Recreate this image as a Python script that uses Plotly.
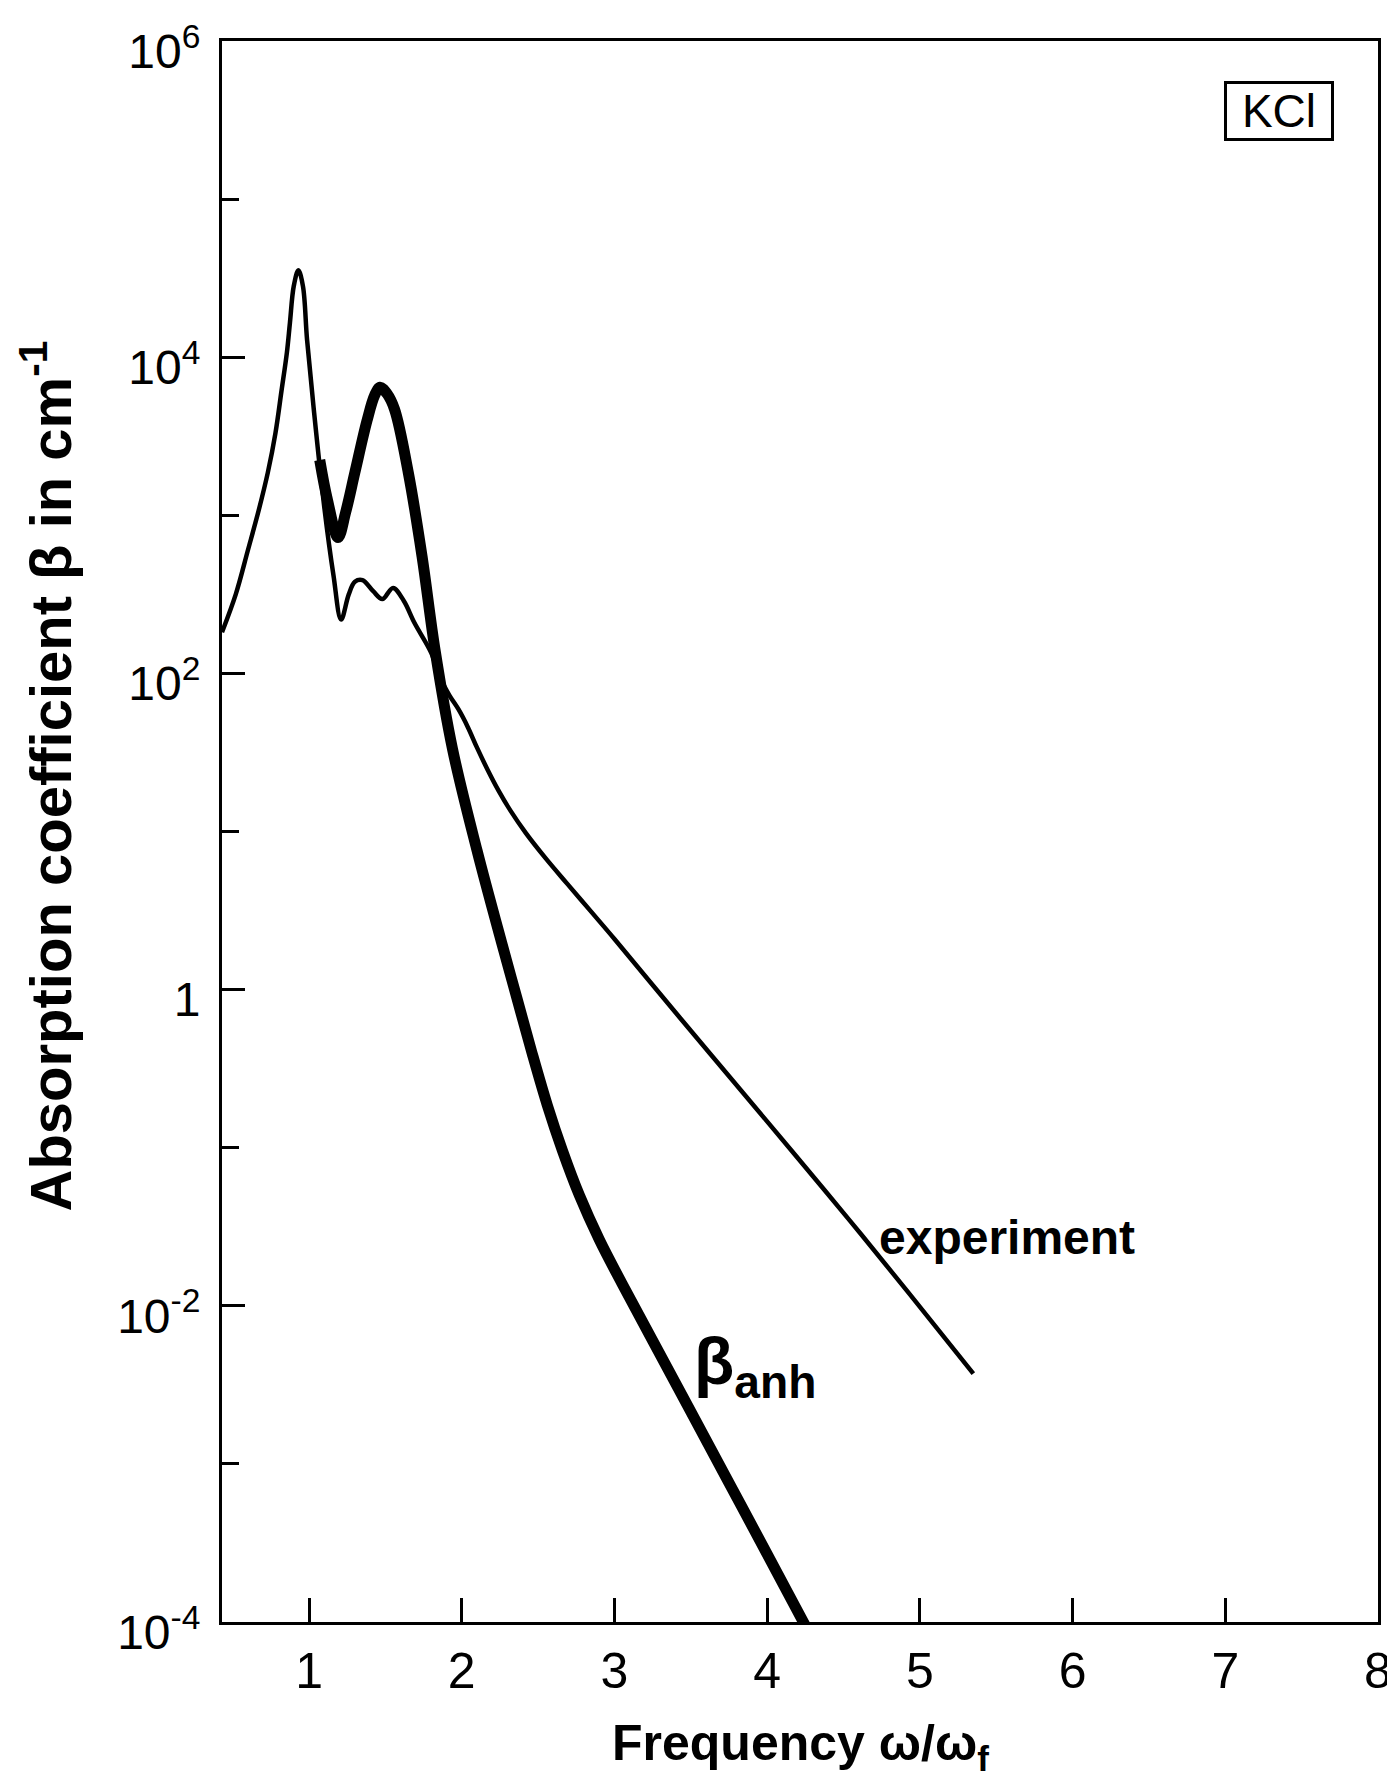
import plotly.graph_objects as go

# ---- data (x = ω/ω_f, y = β in cm^-1) ----
exp_x = [0.43, 0.52, 0.60, 0.67, 0.73, 0.78, 0.82, 0.855, 0.875, 0.90, 0.93, 0.96, 0.987,
         1.03, 1.10, 1.16, 1.21, 1.26, 1.30, 1.35, 1.42, 1.48, 1.55, 1.62, 1.69, 1.80,
         1.86, 1.92, 1.98, 2.04, 2.10, 2.17, 2.24, 2.32, 2.42, 2.55, 2.69, 2.85, 3.00,
         3.43, 3.77, 4.17, 4.54, 4.92, 5.35]
exp_y = [182, 316, 603, 1072, 1862, 3311, 6166, 10715, 16596, 28184, 35481, 28184, 12882,
         4786, 1122, 417, 219, 316, 380, 389, 331, 295, 347, 288, 209, 135,
         93.3, 72.4, 58.9, 45.7, 33.9, 24.5, 18.2, 13.5, 9.77, 6.76, 4.68, 3.09, 2.09,
         0.661, 0.269, 0.0933, 0.0347, 0.0123, 0.00372]

anh_x = [1.07, 1.12, 1.19, 1.24, 1.30, 1.38, 1.43, 1.465, 1.51, 1.56, 1.65, 1.74, 1.825,
         1.94, 2.10, 2.26, 2.36, 2.46, 2.56, 2.66, 2.77, 2.90, 3.05, 3.25, 3.50, 3.75,
         4.00, 4.27]
anh_y = [2239, 1259, 724, 1047, 1862, 3981, 5754, 6457, 5888, 4677, 1862, 550, 141,
         33.1, 7.59, 2.00, 0.891, 0.398, 0.186, 0.0955, 0.0501, 0.0263, 0.0138, 0.00603,
         0.00214, 0.000759, 0.000269, 0.0000871]

x_ticks = [1, 2, 3, 4, 5, 6, 7, 8]
y_ticks = [1e-4, 1e-2, 1, 1e2, 1e4, 1e6]
y_ticktext = ["10<sup>-4</sup>", "10<sup>-2</sup>", "1", "10<sup>2</sup>",
              "10<sup>4</sup>", "10<sup>6</sup>"]
y_minor = [1e-3, 1e-1, 1e1, 1e3, 1e5]

FONT = "Liberation Sans, Arial, sans-serif"

fig = go.Figure()
fig.add_trace(go.Scatter(x=exp_x, y=exp_y, mode="lines", name="experiment",
                         line=dict(color="black", width=4.5, shape="spline", smoothing=1.0)))
fig.add_trace(go.Scatter(x=anh_x, y=anh_y, mode="lines", name="β_anh",
                         line=dict(color="black", width=11, shape="spline", smoothing=1.0)))

# the page body adds an 8 px margin, so the figure is 8 px smaller than the window
fig.update_layout(
    width=1387, height=1770,
    margin=dict(l=214, r=17, t=33, b=156),
    plot_bgcolor="white", paper_bgcolor="white",
    showlegend=False,
    font=dict(family=FONT, color="black"),
)

fig.update_xaxes(
    range=[0.43, 8.0], tickvals=x_ticks, ticks="inside", ticklen=24, tickwidth=2.5,
    tickcolor="black", showline=True, linewidth=3, linecolor="black", mirror=True,
    showgrid=False, zeroline=False, tickfont=dict(size=50, family=FONT, color="black"),
    ticklabelstandoff=3, automargin=False, ticklabeloverflow="allow",
)
fig.update_yaxes(
    type="log", range=[-4, 6], tickvals=y_ticks, ticktext=y_ticktext,
    ticks="inside", ticklen=23, tickwidth=2.5, tickcolor="black",
    minor=dict(tickvals=y_minor, ticks="inside", ticklen=17, tickwidth=2.5, tickcolor="black"),
    showline=True, linewidth=3, linecolor="black", mirror=True,
    showgrid=False, zeroline=False, tickfont=dict(size=48, family=FONT, color="black"),
    ticklabelstandoff=9, ticklabelshift=10, automargin=False, ticklabeloverflow="allow",
)

# axis titles
fig.add_annotation(text="Absorption coefficient β in cm<sup>-1</sup>", textangle=-90,
                   xref="paper", yref="paper", x=-0.152, y=0.535,
                   xanchor="center", yanchor="middle", showarrow=False,
                   font=dict(size=58, family=FONT, color="black", weight="bold"))
fig.add_annotation(text="Frequency ω/ω<sub>f</sub>",
                   xref="paper", yref="paper", x=0.5, y=-0.079,
                   xanchor="center", yanchor="middle", showarrow=False,
                   font=dict(size=50, family=FONT, color="black", weight="bold"))

# labels inside the plot
fig.add_annotation(text="KCl", xref="x", yref="y", x=7.35, y=5.557,
                   showarrow=False, bordercolor="black", borderwidth=3, borderpad=2,
                   width=100, height=50, bgcolor="white",
                   font=dict(size=46, family=FONT, color="black"))
fig.add_annotation(text="experiment", xref="x", yref="y", x=5.57, y=-1.57,
                   showarrow=False, font=dict(size=48, family=FONT, color="black", weight="bold"))
fig.add_annotation(text="β<sub>anh</sub>", xref="x", yref="y", x=3.92, y=-2.38,
                   showarrow=False, font=dict(size=66, family=FONT, color="black", weight="bold"))

fig.write_html("out.html")
